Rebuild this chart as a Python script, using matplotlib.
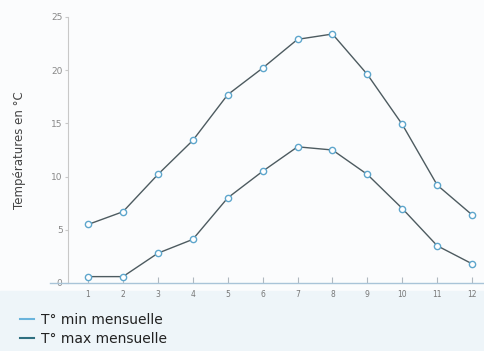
import matplotlib.pyplot as plt
from matplotlib.lines import Line2D
from matplotlib.patches import Rectangle

months = [1, 2, 3, 4, 5, 6, 7, 8, 9, 10, 11, 12]
month_labels = ["1", "2", "3", "4", "5", "6", "7", "8", "9", "10", "11", "12"]
t_min = [0.6, 0.6, 2.8, 4.1, 8.0, 10.5, 12.8, 12.5, 10.2, 7.0, 3.5, 1.8]
t_max = [5.5, 6.7, 10.2, 13.4, 17.7, 20.2, 22.9, 23.4, 19.6, 14.9, 9.2, 6.4]
y_ticks = [0, 5, 10, 15, 20, 25]

line_color = "#4d5b60"
marker_edge = "#5ea6cc"
axis_color = "#a9c4d8"


def main():
    fig = plt.figure(figsize=(4.84, 3.51), dpi=100)
    fig.patch.set_facecolor("#fbfcfd")
    # light bluish band behind the legend
    fig.patches.append(Rectangle((0, 0), 1, 0.17, transform=fig.transFigure,
                                 color="#eef5f9", zorder=-5))

    ax = fig.add_axes([50 / 484, 68 / 351, 434 / 484, 266 / 351])
    ax.set_facecolor("none")

    for values in (t_min, t_max):
        ax.plot(months, values, color=line_color, linewidth=1.0,
                marker="o", markersize=4.5, markerfacecolor="white",
                markeredgecolor=marker_edge, markeredgewidth=1.0)

    ax.set_xlim(-0.09, 12.34)
    ax.set_ylim(0, 25)

    ax.spines["top"].set_visible(False)
    ax.spines["right"].set_visible(False)
    ax.spines["left"].set_position(("data", 0.43))
    ax.spines["left"].set_color("#c8c8c8")
    ax.spines["bottom"].set_color(axis_color)
    ax.spines["left"].set_linewidth(0.8)
    ax.spines["bottom"].set_linewidth(1.0)

    ax.set_xticks(months)
    ax.set_xticklabels(month_labels)
    ax.set_yticks(y_ticks)
    ax.tick_params(axis="x", direction="in", length=4, color="#b0b8c0",
                   labelsize=5.5, labelcolor="#777777", pad=5)
    ax.tick_params(axis="y", direction="out", length=2, color="#c8c8c8",
                   labelsize=6.5, labelcolor="#888888", pad=2)

    ax.set_ylabel("Températures en °C", fontsize=8.5, color="#444444")
    ax.yaxis.set_label_coords(-0.055, 0.5)

    handles = [
        Line2D([], [], color="#6ab4dc", linewidth=1.5),
        Line2D([], [], color="#2f6f80", linewidth=1.5),
    ]
    fig.legend(handles, ["T° min mensuelle", "T° max mensuelle"],
               loc="lower left", bbox_to_anchor=(0.015, -0.02),
               frameon=False, fontsize=10, handlelength=1.0,
               handletextpad=0.5, labelspacing=0.3, labelcolor="#222222")

    fig.savefig("out.png", dpi=100, facecolor=fig.get_facecolor())


if __name__ == "__main__":
    main()
